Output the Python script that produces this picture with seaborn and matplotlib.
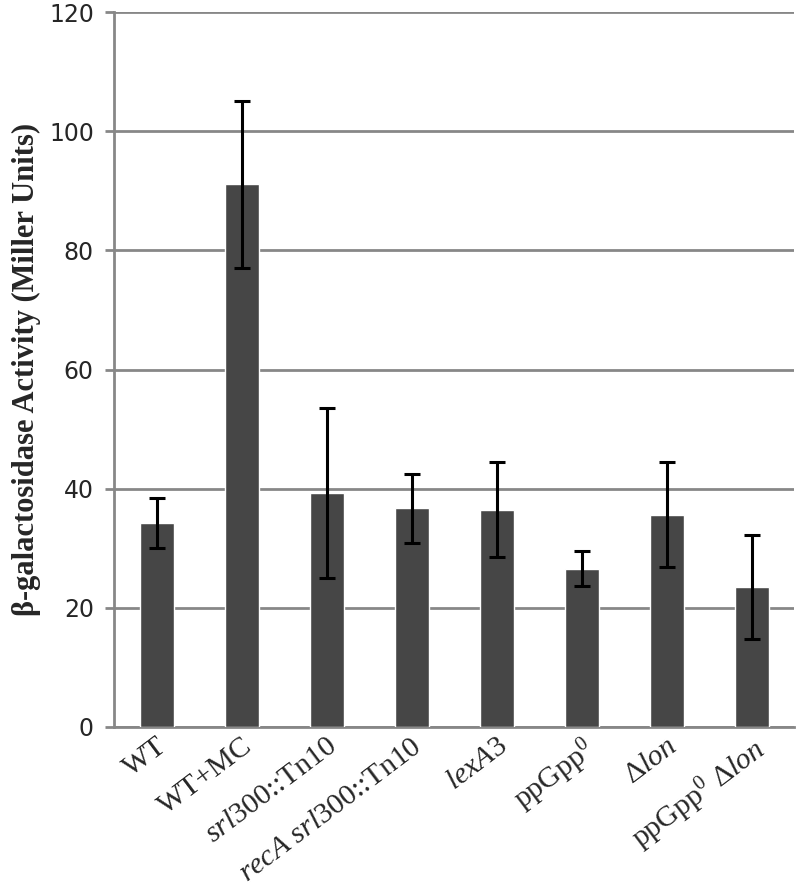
import matplotlib
matplotlib.use("Agg")
import matplotlib.pyplot as plt
import seaborn as sns
import pandas as pd

strains = ["WT", "WT+MC", "srl300::Tn10", "recA srl300::Tn10", "lexA3",
           "ppGpp0", "dlon", "ppGpp0 dlon"]
tick_labels = [r"WT", r"WT+MC", r"$srl300$::Tn$10$", r"$recA$ $srl300$::Tn$10$",
               r"$lexA3$", r"ppGpp$^0$", r"$\Delta lon$", r"ppGpp$^0$ $\Delta lon$"]
activity = [34.3, 91.1, 39.3, 36.7, 36.5, 26.6, 35.6, 23.5]
err = [4.2, 14.0, 14.3, 5.8, 8.0, 2.9, 8.8, 8.7]

df = pd.DataFrame({"strain": strains, "activity": activity})

sns.set_style("white")
plt.rcParams["mathtext.fontset"] = "custom"
plt.rcParams["mathtext.rm"] = "Liberation Serif"
plt.rcParams["mathtext.it"] = "Liberation Serif:italic"
plt.rcParams["mathtext.bf"] = "Liberation Serif:bold"

fig = plt.figure(figsize=(8, 8.92), dpi=100)
ax = fig.add_axes([0.1425, 0.185, 0.85, 0.8015])

sns.barplot(data=df, x="strain", y="activity", color="#464646", width=0.4,
            saturation=1, ax=ax, zorder=3)
ax.errorbar(range(len(strains)), activity, yerr=err, fmt="none", ecolor="black",
            elinewidth=2.2, capsize=5.5, capthick=2.2, zorder=4)

ax.set_ylim(0, 120)
ax.set_xlim(-0.5, 7.5)
ax.set_yticks(range(0, 121, 20))
ax.yaxis.grid(True, color="#878787", linewidth=2, zorder=0)
ax.set_axisbelow(True)

for s in ["top", "right"]:
    ax.spines[s].set_visible(False)
for s in ["left", "bottom"]:
    ax.spines[s].set_color("#878787")
    ax.spines[s].set_linewidth(2)

ax.tick_params(axis="y", direction="out", length=6.5, width=2, color="#878787",
               labelsize=17, pad=8, left=True)
ax.tick_params(axis="x", bottom=False, pad=1)
ax.set_xticks(range(len(strains)))
ax.set_xticklabels(tick_labels, rotation=37, ha="right", rotation_mode="anchor",
                   fontsize=21.5, family="Liberation Serif")

ax.set_xlabel("")
ax.set_ylabel("β-galactosidase Activity (Miller Units)", family="Liberation Serif",
              fontweight="bold", fontsize=22)
ax.yaxis.set_label_coords(-0.107, 0.5)

fig.savefig("out.png", dpi=100)
